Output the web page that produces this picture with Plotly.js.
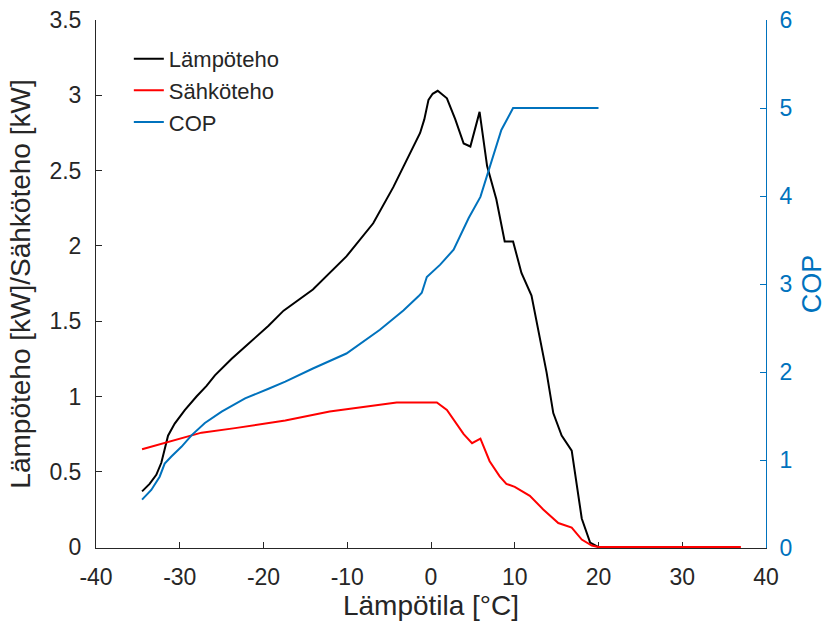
<!DOCTYPE html>
<html>
<head>
<meta charset="utf-8">
<script src="https://cdn.plot.ly/plotly-3.0.1.min.js"></script>
<style>html,body{margin:0;padding:0;background:#fff;}#chart{width:827px;height:625px;}</style>
</head>
<body>
<div id="chart"></div>
<script>
// Lämpöteho (heat output, kW)
const heatX = [-34.5,-33.6,-32.8,-32.2,-31.8,-31.4,-30.6,-29.4,-28.0,-26.8,-25.8,-23.8,-21.8,-19.4,-17.6,-14.1,-10.1,-6.9,-4.5,-2.5,-1.3,-0.8,-0.3,0.2,0.8,1.9,2.9,3.9,4.7,5.8,6.7,7.8,8.8,9.8,10.8,12.0,13.0,13.8,14.6,15.6,16.8,17.4,18.0,19.0,19.8,20.0];
const heatY = [0.37,0.42,0.48,0.56,0.65,0.74,0.82,0.91,1.00,1.07,1.14,1.25,1.35,1.47,1.57,1.71,1.93,2.15,2.39,2.62,2.75,2.84,2.97,3.01,3.03,2.98,2.84,2.68,2.66,2.89,2.53,2.31,2.03,2.03,1.82,1.67,1.38,1.16,0.89,0.74,0.64,0.41,0.19,0.03,0.01,0];
// Sähköteho (electric power, kW)
const elecX = [-34.5,-31.4,-27.4,-23.4,-17.4,-12.1,-8.0,-4.1,0.7,1.9,3.9,4.9,5.9,7.0,8.2,9.0,10.0,11.8,13.4,15.2,16.8,18.0,19.2,20.0,37.0];
const elecY = [0.65,0.70,0.76,0.79,0.84,0.90,0.93,0.96,0.96,0.91,0.75,0.69,0.72,0.57,0.47,0.42,0.40,0.34,0.25,0.16,0.13,0.05,0.01,0,0];
// COP
const copX = [-34.5,-33.4,-32.4,-31.8,-31.0,-29.8,-28.6,-27.0,-25.0,-22.2,-19.4,-17.4,-14.1,-10.1,-6.1,-3.3,-1.5,-1.1,-0.5,0.3,1.1,2.7,4.5,5.9,7.0,8.4,9.8,20.0];
const copY = [0.55,0.66,0.81,0.96,1.04,1.15,1.28,1.42,1.55,1.70,1.81,1.89,2.04,2.21,2.48,2.70,2.86,2.90,3.08,3.15,3.22,3.39,3.75,3.99,4.33,4.75,5.0,5.0];

const xTicks = [-40,-30,-20,-10,0,10,20,30,40];
const yTicks = [0,0.5,1,1.5,2,2.5,3,3.5];
const y2Ticks = [0,1,2,3,4,5,6];

const blue = '#0072BD';
const dark = '#262626';
const fontFam = 'Liberation Sans, Arial, sans-serif';

const traces = [
  {x: heatX, y: heatY, name: 'Lämpöteho', mode: 'lines', line: {color: '#000000', width: 2}, xaxis: 'x', yaxis: 'y'},
  {x: elecX, y: elecY, name: 'Sähköteho', mode: 'lines', line: {color: '#FF0000', width: 2}, xaxis: 'x', yaxis: 'y'},
  {x: copX, y: copY, name: 'COP', mode: 'lines', line: {color: blue, width: 2}, xaxis: 'x', yaxis: 'y2'}
];

const layout = {
  width: 827, height: 625,
  margin: {l: 96, r: 61, t: 20, b: 77},
  paper_bgcolor: '#fff', plot_bgcolor: '#fff',
  font: {family: fontFam, color: dark, size: 23},
  showlegend: true,
  legend: {x: 0.049, y: 0.966, xanchor: 'left', yanchor: 'top', bgcolor: 'rgba(0,0,0,0)', font: {size: 22, color: dark}, tracegroupgap: 0},
  xaxis: {
    range: [-40, 40], tickvals: xTicks, ticktext: xTicks.map(String),
    showgrid: false, zeroline: false, showline: true, linecolor: dark, linewidth: 1, layer: 'below traces',
    ticks: 'inside', ticklen: 6, tickcolor: dark, tickfont: {size: 23, color: dark}, ticklabelstandoff: 8,
    title: {text: 'Lämpötila [°C]', font: {size: 28, color: dark}, standoff: 6}
  },
  yaxis: {
    range: [-0.006, 3.5], tickvals: yTicks, ticktext: yTicks.map(String),
    showgrid: false, zeroline: false, showline: true, linecolor: dark, linewidth: 1,
    ticks: 'inside', ticklen: 6, tickcolor: dark, tickfont: {size: 23, color: dark}, ticklabelstandoff: 9,
    title: {text: 'Lämpöteho [kW]/Sähköteho [kW]', font: {size: 28, color: dark}, standoff: 10}
  },
  yaxis2: {
    range: [0, 6], tickvals: y2Ticks, ticktext: y2Ticks.map(String),
    overlaying: 'y', side: 'right', anchor: 'x',
    showgrid: false, zeroline: false, showline: true, linecolor: blue, linewidth: 1,
    ticks: 'inside', ticklen: 6, tickcolor: blue, tickfont: {size: 23, color: blue}, ticklabelstandoff: 8,
    title: {text: 'COP', font: {size: 27, color: blue}, standoff: 14}
  }
};

Plotly.newPlot('chart', traces, layout, {displayModeBar: false, staticPlot: true});
</script>
</body>
</html>
